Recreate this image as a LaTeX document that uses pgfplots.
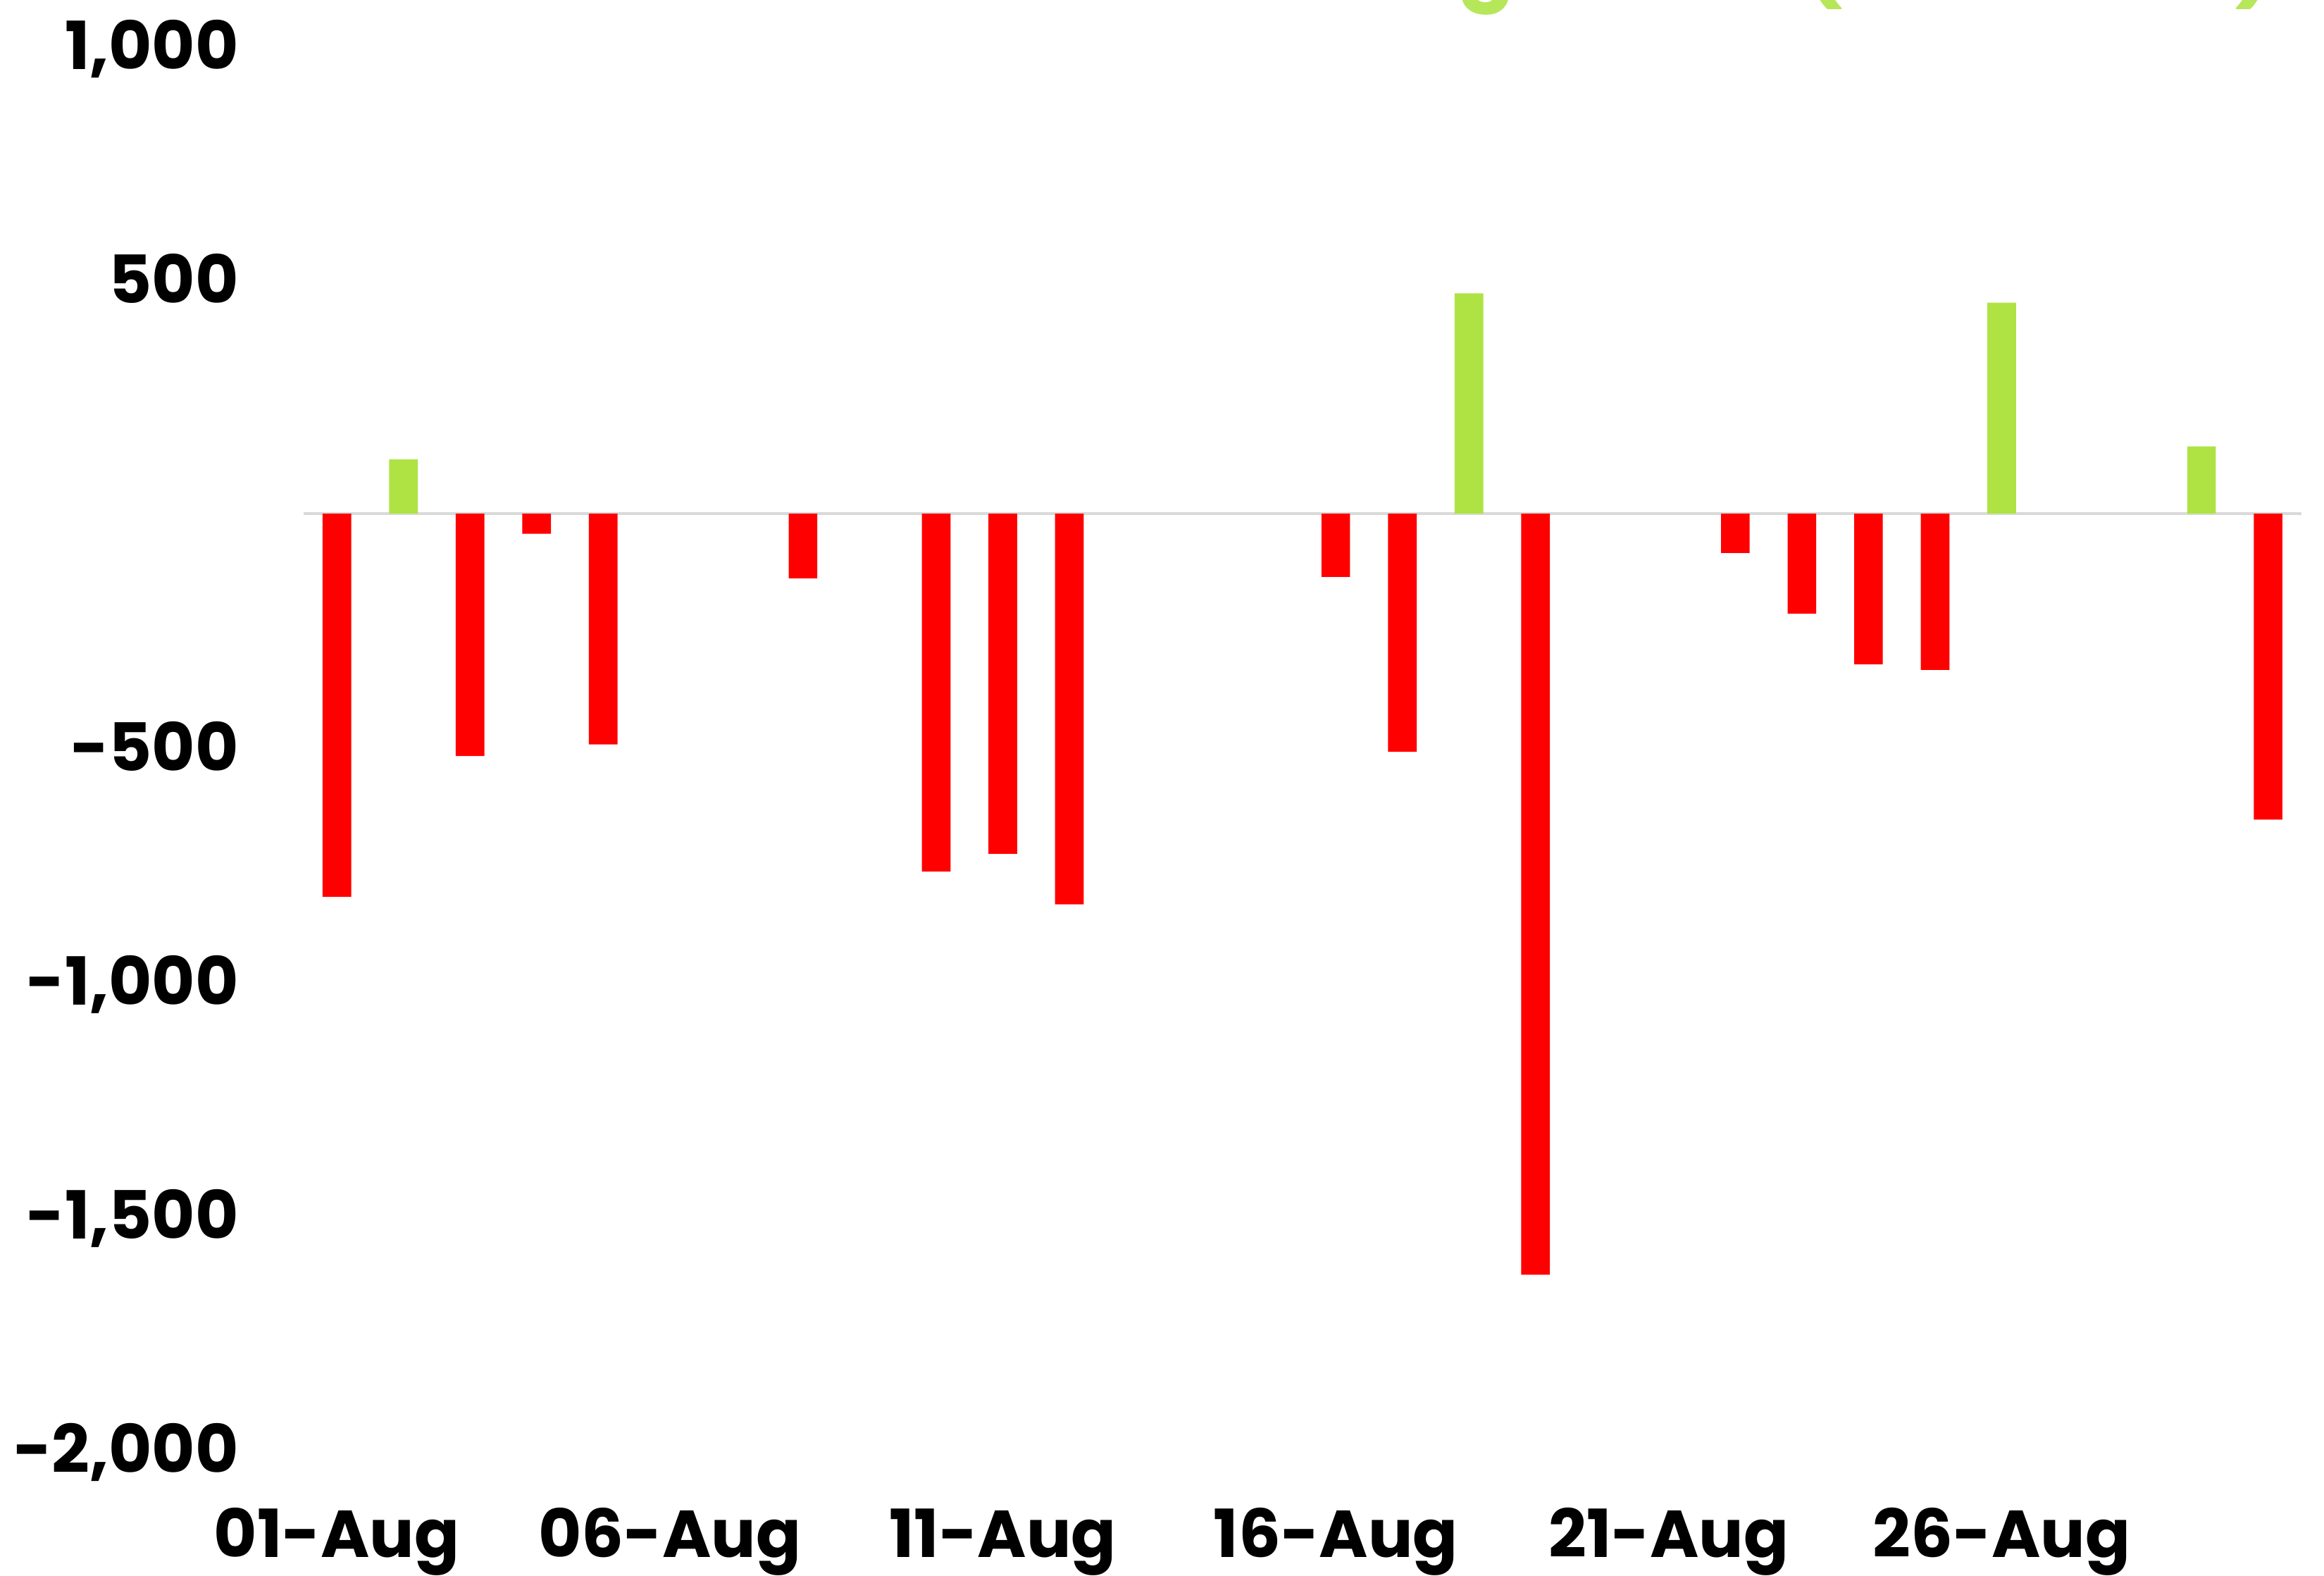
\documentclass[border=0pt]{standalone}
\usepackage{fontspec}
\setmainfont{Poppins}
\usepackage{pgfplots}
\pgfplotsset{compat=1.18}
\definecolor{negred}{HTML}{FF0000}
\definecolor{posgreen}{HTML}{AEE343}
\definecolor{titlegreen}{HTML}{B6E659}
\definecolor{zeroline}{HTML}{D9D9D9}

\begin{document}
\begin{tikzpicture}
\begin{axis}[
  at={(0,0)}, anchor=south west,
  width=13.754cm, height=9.661cm, scale only axis,
  xmin=0.5, xmax=30.5, ymin=-2000, ymax=1000,
  ybar, bar width=0.43, bar shift=0pt,
  axis line style={draw=none},
  major tick length=0pt,
  xtick={1,6,11,16,21,26},
  xticklabels={01-Aug,06-Aug,11-Aug,16-Aug,21-Aug,26-Aug},
  ytick={-2000,-1500,-1000,-500,500,1000},
  /pgf/number format/assume math mode=true,
  /pgf/number format/1000 sep={,},
  ticklabel style={font=\fontsize{13}{15}\selectfont\bfseries, inner sep=0pt},
  yticklabel style={anchor=base east, xshift=-0.44cm, yshift=-4.6pt},
  xticklabel style={anchor=base, yshift=-0.745cm},
  clip=false,
]
% zero line
\addplot[sharp plot, draw=zeroline, line width=0.5pt, forget plot] coordinates {(0.5,0) (30.5,0)};
% net selling days
\addplot[fill=negred, draw=none] coordinates {
  (1,-819) (3,-518) (4,-43) (5,-493) (8,-138) (10,-765) (11,-727) (12,-835)
  (16,-135) (17,-509) (19,-1627) (22,-84) (23,-214) (24,-322) (25,-334) (30,-654)
};
% net buying days
\addplot[fill=posgreen, draw=none] coordinates {
  (2,116) (18,471) (26,451) (29,144)
};
\end{axis}
% title, mostly above the visible page
\node[anchor=base east, text=titlegreen, inner sep=0pt,
      font=\fontsize{16.5}{20}\selectfont\bfseries] at (13.578,10.035)
      {FII Net Trading Value (Rs. Crore)};
\pgfresetboundingbox
\path[use as bounding box] (-2.090,-0.872) rectangle (13.910,9.977);
\end{tikzpicture}
\end{document}
